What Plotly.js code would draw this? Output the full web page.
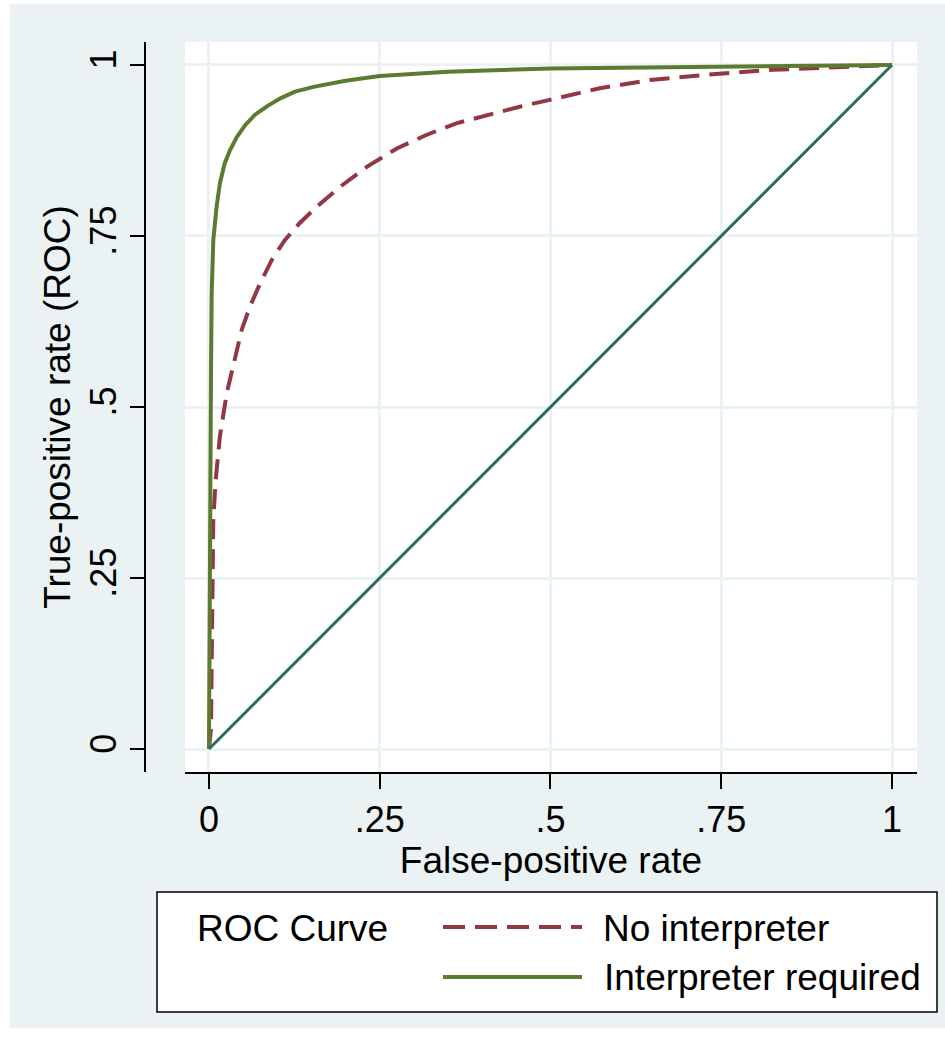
<!DOCTYPE html>
<html>
<head>
<meta charset="utf-8">
<script src="https://cdn.plot.ly/plotly-3.0.1.min.js"></script>
<style>
  html, body { margin: 0; padding: 0; background: #ffffff; }
  #chart { position: absolute; left: 10px; top: 4px; width: 935px; height: 1024px; }
</style>
</head>
<body>
<div id="chart"></div>
<script>
// ---- Data ----
const fprNoInterpreter = [0, 0.003, 0.004, 0.005, 0.0063, 0.0098, 0.016, 0.026, 0.036, 0.048, 0.060, 0.075, 0.092, 0.111, 0.133, 0.158, 0.192, 0.231, 0.275, 0.319, 0.363, 0.407, 0.455, 0.499, 0.572, 0.646, 0.733, 0.826, 0.919, 1];
const tprNoInterpreter = [0, 0.03, 0.13, 0.257, 0.335, 0.393, 0.457, 0.52, 0.56, 0.613, 0.647, 0.681, 0.715, 0.744, 0.769, 0.793, 0.822, 0.851, 0.878, 0.898, 0.915, 0.927, 0.939, 0.949, 0.966, 0.978, 0.986, 0.993, 0.996, 1];

const fprInterpreter = [0, 0.001, 0.0015, 0.003, 0.004, 0.0063, 0.0112, 0.016, 0.023, 0.031, 0.041, 0.053, 0.067, 0.087, 0.106, 0.126, 0.153, 0.2, 0.25, 0.35, 0.5, 0.6, 0.75, 0.9, 1];
const tprInterpreter = [0, 0.25, 0.45, 0.554, 0.667, 0.744, 0.793, 0.827, 0.856, 0.876, 0.895, 0.912, 0.927, 0.941, 0.952, 0.961, 0.968, 0.977, 0.984, 0.990, 0.995, 0.996, 0.998, 0.999, 1];

const referenceX = [0, 1];
const referenceY = [0, 1];

const tickValues = [0, 0.25, 0.5, 0.75, 1];
const tickLabels = ['0', '.25', '.5', '.75', '1'];

const seriesNames = ['No interpreter', 'Interpreter required'];
const legendTitle = 'ROC Curve';
const xTitle = 'False-positive rate';
const yTitle = 'True-positive rate (ROC)';

// ---- Styling ----
const BG = '#EAF2F3';
const RED = '#913842';
const GREEN = '#5B7B31';
const TEAL = '#2B6B60';
const FONT = 'Liberation Sans, Arial, sans-serif';
const FS = 37;
const TFS = 36;

// page pixel -> paper coordinate helpers (plot area: page x 145..917, y 42..772)
const PL = 145, PR = 917, PT = 42, PB = 772;
const px2x = X => (X - PL) / (PR - PL);
const px2y = Y => (PB - Y) / (PB - PT);

const traces = [
  { x: fprNoInterpreter, y: tprNoInterpreter, type: 'scatter', mode: 'lines', name: seriesNames[0],
    line: { color: RED, width: 4, dash: '20px,10px' }, hoverinfo: 'skip' },
  { x: fprInterpreter, y: tprInterpreter, type: 'scatter', mode: 'lines', name: seriesNames[1],
    line: { color: GREEN, width: 4 }, hoverinfo: 'skip' },
  { x: referenceX, y: referenceY, type: 'scatter', mode: 'lines', name: 'Reference',
    line: { color: TEAL, width: 3 }, hoverinfo: 'skip' }
];

const layout = {
  width: 935, height: 1024,
  margin: { l: 135, r: 28, t: 38, b: 256 },
  paper_bgcolor: BG,
  plot_bgcolor: BG,
  showlegend: false,
  font: { family: FONT, size: FS, color: '#000' },
  xaxis: {
    domain: [(185 - PL) / (PR - PL), 1],
    range: [-0.0351, 1.0366],
    tickvals: tickValues, ticktext: tickLabels,
    ticks: 'outside', ticklen: 15, tickwidth: 2, tickcolor: '#000',
    showline: true, linecolor: '#000', linewidth: 2,
    showgrid: true, gridcolor: BG, gridwidth: 3,
    zeroline: false,
    tickfont: { family: FONT, size: TFS, color: '#000' },
    title: { text: xTitle, font: { family: FONT, size: FS, color: '#000' }, standoff: 0 },
    automargin: false
  },
  yaxis: {
    domain: [0, 1],
    anchor: 'free', position: 0, side: 'left',
    range: [-0.0336, 1.0336],
    tickvals: tickValues, ticktext: tickLabels,
    tickangle: -90,
    ticks: 'outside', ticklen: 14, tickwidth: 2, tickcolor: '#000',
    showline: true, linecolor: '#000', linewidth: 2,
    showgrid: true, gridcolor: BG, gridwidth: 3,
    zeroline: false,
    tickfont: { family: FONT, size: TFS, color: '#000' },
    title: { text: yTitle, font: { family: FONT, size: FS, color: '#000' }, standoff: 0 },
    automargin: false
  },
  shapes: [
    { type: 'rect', xref: 'x domain', yref: 'y domain', x0: 0, x1: 1, y0: 0, y1: 1,
      fillcolor: '#ffffff', line: { width: 0 }, layer: 'below' },
    // legend box
    { type: 'rect', xref: 'paper', yref: 'paper', x0: px2x(157), x1: px2x(937), y0: px2y(892), y1: px2y(1012),
      fillcolor: '#ffffff', line: { color: '#000', width: 1.5 }, layer: 'above' },
    { type: 'line', xref: 'paper', yref: 'paper', x0: px2x(443), x1: px2x(582), y0: px2y(927), y1: px2y(927),
      line: { color: RED, width: 4, dash: '22px,10px' } },
    { type: 'line', xref: 'paper', yref: 'paper', x0: px2x(443), x1: px2x(582), y0: px2y(977), y1: px2y(977),
      line: { color: GREEN, width: 4 } }
  ],
  annotations: [
    { xref: 'paper', yref: 'paper', x: px2x(195), y: px2y(928), xanchor: 'left', yanchor: 'middle',
      text: legendTitle, showarrow: false, font: { family: FONT, size: FS, color: '#000' } },
    { xref: 'paper', yref: 'paper', x: px2x(601), y: px2y(928), xanchor: 'left', yanchor: 'middle',
      text: seriesNames[0], showarrow: false, font: { family: FONT, size: FS, color: '#000' } },
    { xref: 'paper', yref: 'paper', x: px2x(602), y: px2y(977), xanchor: 'left', yanchor: 'middle',
      text: seriesNames[1], showarrow: false, font: { family: FONT, size: FS, color: '#000' } }
  ]
};

Plotly.newPlot('chart', traces, layout, { staticPlot: true, displayModeBar: false });
</script>
</body>
</html>
